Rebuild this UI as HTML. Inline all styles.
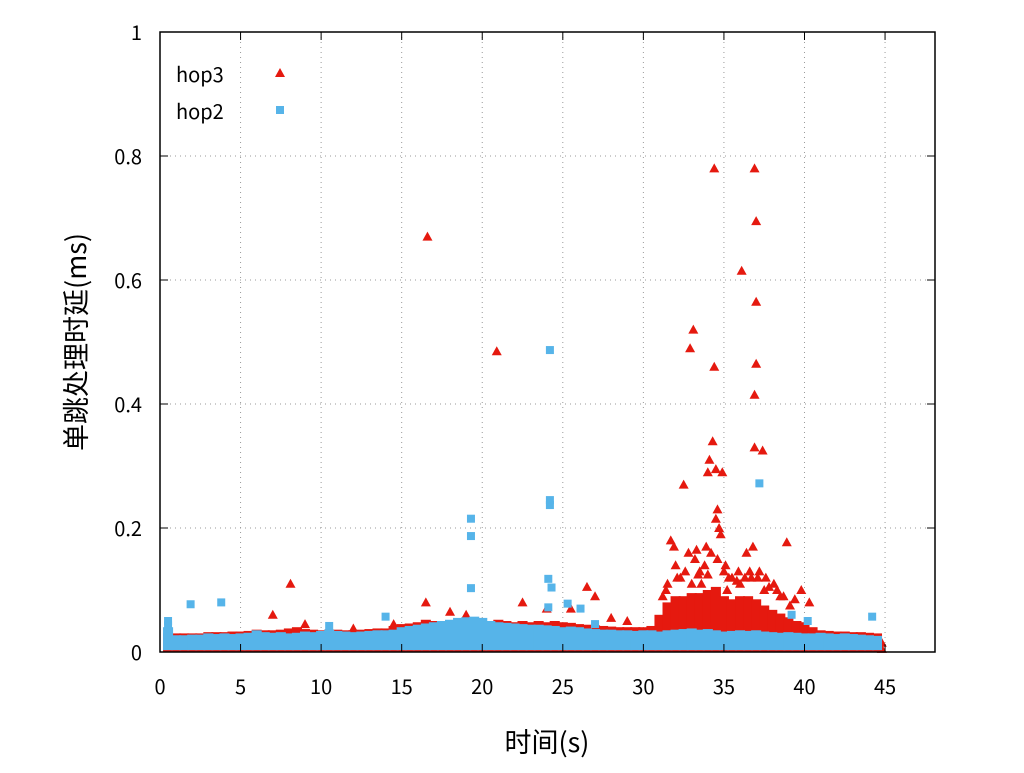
<!DOCTYPE html>
<html><head><meta charset="utf-8"><style>
body{margin:0;background:#fff}
svg text{font-family:"Noto Sans CJK SC","Liberation Sans",sans-serif}
</style></head><body>
<svg id="chart" width="1024" height="768" xmlns="http://www.w3.org/2000/svg">
<g id="grid"></g>
<g id="marks"></g>
<g id="axes"></g>
</svg>
<script>
const xTicks=[0,5,10,15,20,25,30,35,40,45];
const yTicks=[0,0.2,0.4,0.6,0.8,1];
const yTickLabels=["0","0.2","0.4","0.6","0.8","1"];
const bandX=[0.5,1,1.5,2,2.5,3,3.5,4,4.5,5,5.5,6,6.5,7,7.5,8,8.5,9,9.5,10,10.5,11,11.5,12,12.5,13,13.5,14,14.5,15,15.5,16,16.5,17,17.5,18,18.5,19,19.5,20,20.5,21,21.5,22,22.5,23,23.5,24,24.5,25,25.5,26,26.5,27,27.5,28,28.5,29,29.5,30,30.5,31,31.5,32,32.5,33,33.5,34,34.5,35,35.5,36,36.5,37,37.5,38,38.5,39,39.5,40,40.5,41,41.5,42,42.5,43,43.5,44,44.5];
const hop2High=[0.04,0.027,0.027,0.028,0.028,0.03,0.029,0.03,0.029,0.03,0.031,0.035,0.032,0.031,0.032,0.03,0.031,0.033,0.032,0.034,0.036,0.034,0.033,0.032,0.033,0.034,0.035,0.035,0.036,0.04,0.042,0.044,0.046,0.048,0.05,0.052,0.055,0.056,0.057,0.055,0.05,0.048,0.047,0.046,0.045,0.044,0.044,0.043,0.042,0.04,0.041,0.04,0.038,0.037,0.036,0.036,0.035,0.035,0.034,0.035,0.035,0.033,0.035,0.036,0.037,0.038,0.036,0.037,0.035,0.033,0.034,0.035,0.034,0.035,0.033,0.032,0.031,0.032,0.031,0.03,0.03,0.031,0.03,0.029,0.03,0.029,0.028,0.027,0.026];
const hop3High=[0.03,0.03,0.03,0.03,0.03,0.032,0.032,0.032,0.033,0.033,0.034,0.036,0.035,0.035,0.036,0.038,0.04,0.037,0.036,0.035,0.036,0.036,0.035,0.035,0.036,0.037,0.038,0.038,0.042,0.045,0.046,0.048,0.052,0.05,0.05,0.05,0.052,0.05,0.05,0.048,0.05,0.052,0.05,0.048,0.05,0.048,0.05,0.048,0.05,0.048,0.047,0.045,0.044,0.043,0.042,0.041,0.04,0.04,0.04,0.04,0.042,0.06,0.08,0.09,0.09,0.095,0.095,0.1,0.105,0.09,0.085,0.09,0.09,0.085,0.075,0.068,0.062,0.056,0.05,0.048,0.04,0.035,0.034,0.033,0.033,0.032,0.032,0.031,0.03];
const hop3X=[16.6,20.9,33.1,32.9,34.4,36.9,37,36.1,37,34.4,37,36.9,34.3,36.9,37.4,34.1,34.5,34,34.9,32.5,34.6,34.5,38.9,31.7,8.1,7,16.5,22.5,26.5,27,25.5,14.5,31.2,31.9,32.3,32.8,33.2,33.5,33.9,34.2,34.7,35.1,35.5,35.9,36.4,36.8,37.2,37.6,38.1,38.5,39.4,39.8,40.3,32,33.6,35.2,36.3,37.8,34.8,33.3,44.8,44.8,9,10.5,12,18,19,24,28,29,31.5,32.6,33.4,33.8,34.6,35.3,35.8,36.6,37.1,38.3,31.4,32.1,33,34,35,36,36.7,37.5,38.7,39.1];
const hop3Y=[0.67,0.485,0.52,0.49,0.78,0.78,0.695,0.615,0.565,0.46,0.465,0.415,0.34,0.33,0.325,0.31,0.295,0.29,0.29,0.27,0.23,0.215,0.177,0.18,0.11,0.06,0.08,0.08,0.105,0.09,0.07,0.045,0.09,0.17,0.12,0.16,0.15,0.13,0.17,0.16,0.2,0.14,0.12,0.13,0.16,0.17,0.13,0.12,0.11,0.09,0.085,0.1,0.08,0.14,0.11,0.1,0.12,0.105,0.19,0.165,0.015,0.005,0.045,0.04,0.038,0.065,0.06,0.07,0.055,0.05,0.11,0.13,0.125,0.14,0.15,0.12,0.115,0.13,0.12,0.1,0.1,0.12,0.11,0.125,0.13,0.11,0.12,0.1,0.09,0.075];
const hop2X=[24.2,37.2,24.2,24.2,19.3,19.3,24.1,24.3,19.3,1.9,3.8,25.3,24.1,26.1,14,44.2,0.5,39.2,40.2,0.5,10.5,27];
const hop2Y=[0.487,0.272,0.245,0.237,0.215,0.187,0.118,0.104,0.103,0.077,0.08,0.078,0.072,0.07,0.057,0.057,0.05,0.06,0.05,0.043,0.042,0.045];

const L=160,R=935,T=32,B=652,XMAX=48.1;
const xs=v=>L+v/XMAX*(R-L), ys=v=>B-v*(B-T);
const NS="http://www.w3.org/2000/svg";
function mk(tag,attrs,parent,text){const e=document.createElementNS(NS,tag);for(const k in attrs)e.setAttribute(k,attrs[k]);if(text!==undefined)e.textContent=text;parent.appendChild(e);return e;}
const grid=document.getElementById('grid'),marks=document.getElementById('marks'),axes=document.getElementById('axes');
const RED="#e5190f",BLUE="#56b4e9";
xTicks.forEach(t=>{if(t>0){const l=mk('line',{x1:xs(t),x2:xs(t),y1:T,y2:B,stroke:'#999','stroke-dasharray':'1,4'},grid);}});
yTicks.forEach(t=>{if(t>0&&t<1){const l=mk('line',{x1:L,x2:R,y1:ys(t),y2:ys(t),stroke:'#999','stroke-dasharray':'1,4'},grid);}});
const w=xs(0.5)-xs(0)+2;
function tri(x,y,p){return mk('polygon',{points:`${x},${y-5} ${x-5},${y+4} ${x+5},${y+4}`,fill:RED},p);}
bandX.forEach((x,i)=>{const r=mk('rect',{x:xs(x)-w/2,y:ys(hop3High[i]),width:w,height:ys(0)-ys(hop3High[i]),fill:RED},marks);});
hop3X.forEach((x,i)=>{const e=tri(xs(x),ys(hop3Y[i]),marks);});
bandX.forEach((x,i)=>{const r=mk('rect',{x:xs(x)-w/2,y:ys(hop2High[i]),width:w,height:ys(0.003)-ys(hop2High[i]),fill:BLUE},marks);});
hop2X.forEach((x,i)=>{const e=mk('rect',{x:xs(x)-4,y:ys(hop2Y[i])-4,width:8,height:8,fill:BLUE},marks);});
mk('rect',{x:L,y:T,width:R-L,height:B-T,fill:'none',stroke:'#000','stroke-width':1.5},axes);
xTicks.forEach(t=>{mk('line',{x1:xs(t),x2:xs(t),y1:B,y2:B-8,stroke:'#000'},axes);mk('line',{x1:xs(t),x2:xs(t),y1:T,y2:T+8,stroke:'#000'},axes);const tx=mk('text',{x:xs(t),y:B+42,'text-anchor':'middle','font-size':20},axes,String(t));});
yTicks.forEach((t,i)=>{mk('line',{x1:L,x2:L+8,y1:ys(t),y2:ys(t),stroke:'#000'},axes);mk('line',{x1:R,x2:R-8,y1:ys(t),y2:ys(t),stroke:'#000'},axes);const tx=mk('text',{x:L-18,y:ys(t)+8,'text-anchor':'end','font-size':20},axes,yTickLabels[i]);});
</script>
<svg style="position:absolute;left:0;top:0" width="1024" height="768" xmlns="http://www.w3.org/2000/svg">
<text x="547" y="752" text-anchor="middle" font-size="27">时间(s)</text>
<text transform="translate(86,342) rotate(-90)" text-anchor="middle" font-size="27">单跳处理时延(ms)</text>
<g>
<text x="176" y="82" font-size="20">hop3</text>
<polygon points="280,68 275,77 285,77" fill="#e5190f"/>
<text x="176" y="119" font-size="20">hop2</text>
<rect x="276" y="106" width="8" height="8" fill="#56b4e9"/>
</g>
</svg>
</body></html>
